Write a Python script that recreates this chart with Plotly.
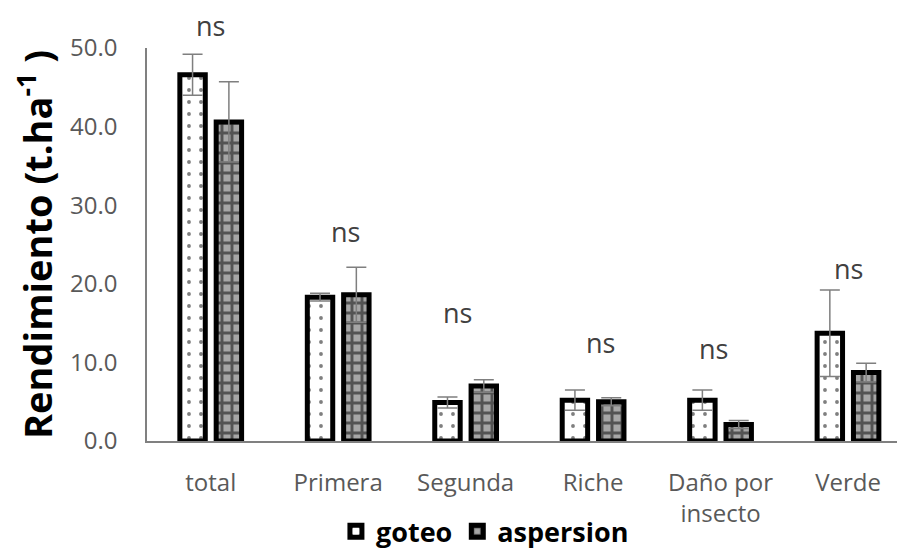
import plotly.graph_objects as go

categories = ["total", "Primera", "Segunda", "Riche", "Daño por<br>insecto", "Verde"]
goteo = [46.6, 18.3, 4.9, 5.2, 5.2, 13.7]
goteo_err = [2.6, 0.5, 0.7, 1.3, 1.3, 5.5]
aspersion = [40.6, 18.6, 7.0, 5.0, 2.1, 8.7]
aspersion_err = [5.1, 3.5, 0.8, 0.5, 0.5, 1.2]
ns_labels = ["ns", "ns", "ns", "ns", "ns", "ns"]
ns_y = [52.9, 26.6, 16.3, 12.5, 11.8, 22.0]
ns_xshift = [0, 7, -8, 7, -7, 0]

y_ticks = [0, 10, 20, 30, 40, 50]
Y_MAX = 50

FONT = "Open Sans"
GRAY = "#595959"
xidx = list(range(len(categories)))

fig = go.Figure()
fig.add_trace(go.Bar(
    name="goteo", x=xidx, y=goteo,
    marker=dict(color="white", line=dict(color="black", width=5),
                pattern=dict(shape=".", fgcolor="black", bgcolor="white", size=12, solidity=0.08)),
    error_y=dict(type="data", array=goteo_err, color="#7f7f7f", thickness=1.5, width=10),
))
fig.add_trace(go.Bar(
    name="aspersion", x=xidx, y=aspersion,
    marker=dict(color="black", line=dict(color="black", width=5),
                pattern=dict(shape="+", fgcolor="black", bgcolor="#a6a6a6", size=10, solidity=0.5)),
    error_y=dict(type="data", array=aspersion_err, color="#7f7f7f", thickness=1.5, width=10),
))

for i, (t, yv, xs) in enumerate(zip(ns_labels, ns_y, ns_xshift)):
    fig.add_annotation(x=i, y=yv / Y_MAX, xref="x", yref="paper", text=t, showarrow=False,
                       xshift=xs, xanchor="center", yanchor="middle",
                       font=dict(family=FONT, size=27, color="#404040"))

fig.update_layout(
    width=905, height=549,
    margin=dict(l=139, r=0, t=40, b=116, autoexpand=False),
    paper_bgcolor="white", plot_bgcolor="white",
    barmode="group", bargap=0.43, bargroupgap=0.3,
    font=dict(family=FONT, color=GRAY),
    showlegend=True,
    legend=dict(orientation="h", xref="container", yref="container",
                x=0.527, xanchor="center", y=0.046, yanchor="middle",
                font=dict(family=FONT, size=27, color="black", weight="bold"),
                itemwidth=30, traceorder="normal", bgcolor="rgba(0,0,0,0)"),
    xaxis=dict(range=[-0.5, 5.51], tickmode="array", tickvals=xidx, ticktext=categories,
               showline=True, linecolor="#808080", linewidth=1.5, ticks="outside",
               ticklen=19, tickcolor="rgba(0,0,0,0)", showgrid=False,
               tickfont=dict(family=FONT, size=24, color=GRAY), fixedrange=True),
    yaxis=dict(range=[0, Y_MAX], tickmode="array", tickvals=y_ticks,
               ticktext=[f"{v:.1f}" for v in y_ticks],
               showline=True, linecolor="#808080", linewidth=1.5, showgrid=False,
               zeroline=False, ticks="", ticklabelstandoff=23,
               tickfont=dict(family=FONT, size=24, color=GRAY),
               title=dict(text="Rendimiento (t.ha<sup>-1</sup> )", standoff=22,
                          font=dict(family=FONT, size=38, color="black", weight="bold"))),
)

fig.write_html("out.html")
